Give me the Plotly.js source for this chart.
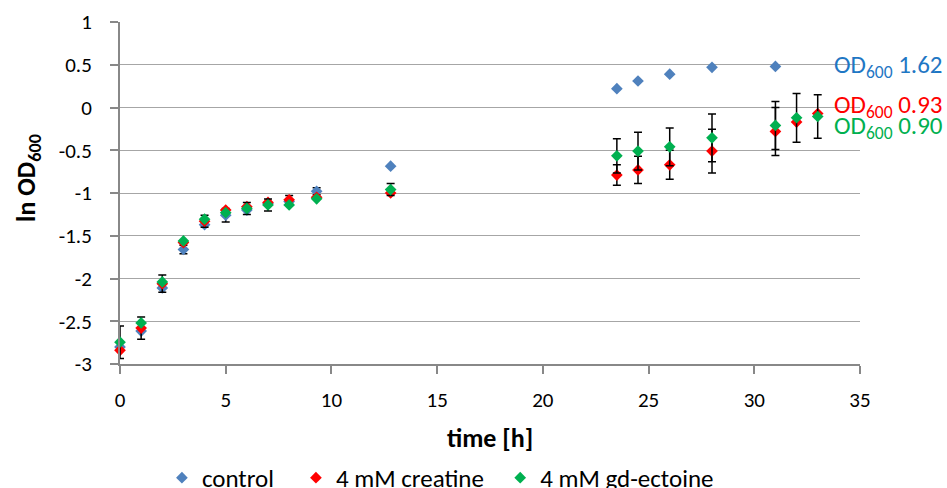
<!DOCTYPE html>
<html>
<head>
<meta charset="utf-8">
<script src="https://cdn.plot.ly/plotly-3.0.1.min.js"></script>
<style>html,body{margin:0;padding:0;background:#fff;}#chart{width:947px;height:488px;}</style>
</head>
<body>
<div id="chart"></div>
<script>
// time points [h]
const timeControl = [0, 1, 2, 3, 4, 5, 6, 7, 8, 9.3, 12.8, 23.5, 24.5, 26, 28, 31];
const timeTreated = [0, 1, 2, 3, 4, 5, 6, 7, 8, 9.3, 12.8, 23.5, 24.5, 26, 28, 31, 32, 33];

// ln OD600 values
const control = [-2.80, -2.615, -2.11, -1.66, -1.37, -1.26, -1.20, -1.125, -1.10, -0.98, -0.686, 0.22, 0.31, 0.39, 0.47, 0.48];
const controlErr = [0, 0, 0, 0.05, 0, 0.08, 0, 0, 0, 0.04, 0, 0, 0, 0, 0, 0];

const creatine = [-2.84, -2.58, -2.06, -1.58, -1.33, -1.20, -1.16, -1.11, -1.08, -1.05, -1.00, -0.79, -0.73, -0.67, -0.51, -0.28, -0.17, -0.07];
const creatineErr = [0, 0.13, 0.10, 0, 0.07, 0, 0, 0, 0.05, 0, 0, 0.12, 0.16, 0.17, 0.255, 0.28, 0, 0];

const ectoine = [-2.745, -2.52, -2.04, -1.56, -1.306, -1.23, -1.18, -1.14, -1.14, -1.068, -0.96, -0.565, -0.51, -0.46, -0.355, -0.21, -0.12, -0.105];
const ectoineErr = [0.19, 0, 0, 0, 0, 0, 0.07, 0.07, 0, 0, 0.07, 0.2, 0.22, 0.22, 0.28, 0.28, 0.285, 0.255];

const seriesNames = ['control', '4 mM creatine', '4 mM gd-ectoine'];
const finalOD = ['1.62', '0.93', '0.90'];
const labelY = [0.49, 0.02, -0.23];

const colors = ['#4F81BD', '#FF0000', '#00B050'];
const labelColors = ['#1F77C4', '#FF0000', '#00B050'];
const FONT = 'Carlito, Calibri, Lato, sans-serif';

function trace(x, y, err, i, pad) {
  return {
    type: 'scatter', mode: 'markers', x: x, y: y, name: seriesNames[i] + pad,
    cliponaxis: false,
    marker: {symbol: 'diamond', size: 9, color: colors[i]},
    error_y: {type: 'data', array: err, visible: true, color: '#000000', thickness: 1.5, width: 4}
  };
}

const data = [
  trace(timeControl, control, controlErr, 0, '\u00A0\u00A0\u00A0'),
  trace(timeTreated, creatine, creatineErr, 1, '\u00A0\u00A0'),
  trace(timeTreated, ectoine, ectoineErr, 2, '')
];

const annotations = finalOD.map((v, i) => ({
  xref: 'paper', yref: 'y', x: 0.962, y: labelY[i], xanchor: 'left', yanchor: 'middle',
  text: 'OD<sub>600</sub> ' + v, showarrow: false,
  font: {family: FONT, size: 25, color: labelColors[i]}
}));
annotations.push({
  xref: 'paper', yref: 'paper', x: -0.1243, y: 0.544, xanchor: 'center', yanchor: 'middle',
  textangle: -90, showarrow: false,
  text: '<b>ln OD<sub>600</sub></b>',
  font: {family: FONT, size: 26, color: '#000000'}
});

const layout = {
  width: 947, height: 488,
  margin: {l: 120, r: 87, t: 22, b: 124, autoexpand: false},
  paper_bgcolor: '#ffffff', plot_bgcolor: '#ffffff',
  font: {family: FONT, size: 21, color: '#000000'},
  showlegend: true,
  legend: {orientation: 'h', x: 0.433, xanchor: 'center', y: -0.333, yanchor: 'middle',
           font: {family: FONT, size: 25, color: '#000000'}, itemwidth: 30},
  xaxis: {
    range: [0, 35], tickvals: [0, 5, 10, 15, 20, 25, 30, 35],
    showgrid: false, zeroline: false,
    showline: true, linecolor: '#888888', linewidth: 2,
    ticks: 'outside', ticklen: 8, tickcolor: '#888888', tickwidth: 2,
    tickfont: {family: FONT, size: 21},
    ticklabelstandoff: 8,
    title: {text: '<b>time [h]</b>', font: {family: FONT, size: 26}, standoff: 17},
    automargin: false
  },
  yaxis: {
    range: [-3, 1], tickvals: [-3, -2.5, -2, -1.5, -1, -0.5, 0, 0.5, 1],
    ticktext: ['-3', '-2.5', '-2', '-1.5', '-1', '-0.5', '0', '0.5', '1'],
    showgrid: true, gridcolor: '#A6A6A6', gridwidth: 1, zeroline: false,
    showline: true, linecolor: '#888888', linewidth: 2,
    ticks: 'outside', ticklen: 8, tickcolor: '#888888', tickwidth: 2,
    tickfont: {family: FONT, size: 21},
    ticklabelstandoff: 14,
    automargin: false
  },
  annotations: annotations
};

Plotly.newPlot('chart', data, layout, {displayModeBar: false, staticPlot: true});
</script>
</body>
</html>
